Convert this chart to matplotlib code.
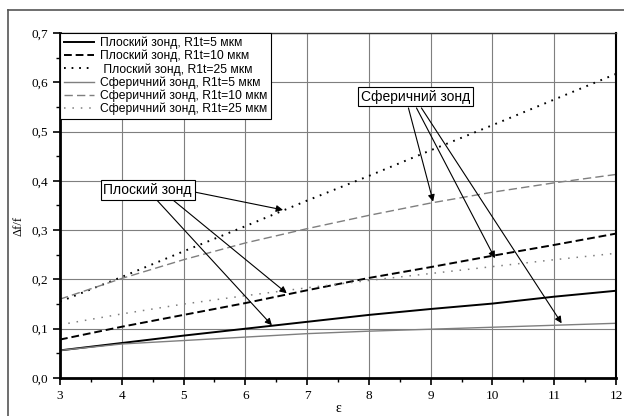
import numpy as np
import matplotlib.pyplot as plt
from matplotlib.lines import Line2D

eps = [3, 4, 5, 6, 7, 8, 9, 10, 11, 12]

flat_5 = [0.056, 0.071, 0.086, 0.100, 0.114, 0.128, 0.140, 0.151, 0.165, 0.177]
flat_10 = [0.078, 0.104, 0.128, 0.152, 0.178, 0.203, 0.225, 0.248, 0.270, 0.293]
flat_25 = [0.155, 0.205, 0.257, 0.308, 0.360, 0.410, 0.462, 0.513, 0.565, 0.617]
sph_5 = [0.056, 0.069, 0.076, 0.083, 0.090, 0.095, 0.099, 0.103, 0.107, 0.111]
sph_10 = [0.160, 0.202, 0.240, 0.274, 0.303, 0.330, 0.355, 0.377, 0.396, 0.413]
sph_25 = [0.108, 0.130, 0.150, 0.167, 0.183, 0.198, 0.212, 0.226, 0.240, 0.253]

labels = ['Плоский зонд, R1t=5 мкм', 'Плоский зонд, R1t=10 мкм', ' Плоский зонд, R1t=25 мкм',
          'Сферичний зонд, R1t=5 мкм', 'Сферичний зонд, R1t=10 мкм', 'Сферичний зонд, R1t=25 мкм']

xticks = [3, 4, 5, 6, 7, 8, 9, 10, 11, 12]
yticks = [0.0, 0.1, 0.2, 0.3, 0.4, 0.5, 0.6, 0.7]

# annotation boxes: text, position, arrow starts and tips
flat_box = (4.42, 0.381)
flat_starts = [(5.19, 0.377), (4.56, 0.362), (4.84, 0.360)]
flat_tips = [(6.61, 0.341), (6.43, 0.107), (6.67, 0.172)]
sph_box = (8.75, 0.571)
sph_starts = [(8.64, 0.548), (8.77, 0.548), (8.85, 0.548)]
sph_tips = [(9.04, 0.358), (10.04, 0.243), (11.12, 0.111)]

grey = '#7f7f7f'
fig = plt.figure(figsize=(6.24, 4.16), dpi=100)
ax = fig.add_axes([60/624, 38/416, 556/624, 345/416])

ax.grid(True, color=grey, lw=0.8)
ax.set_axisbelow(True)

ax.plot(eps, flat_5, color='black', lw=1.4, label=labels[0])
ax.plot(eps, flat_10, color='black', lw=1.4, ls=(0, (4, 2)), label=labels[1])
ax.plot(eps, flat_25, color='black', lw=1.4, ls=(0, (0.9, 3.0)), label=labels[2])
ax.plot(eps, sph_5, color=grey, lw=1.0, label=labels[3])
ax.plot(eps, sph_10, color=grey, lw=1.0, ls=(0, (6, 3)), label=labels[4])
ax.plot(eps, sph_25, color=grey, lw=1.1, ls=(0, (1, 4.5)), label=labels[5])

ax.set_xlim(3, 12)
ax.set_ylim(0, 0.7)
ax.set_xticks(xticks)
ax.set_yticks(yticks)
ax.set_xticks(np.arange(3.5, 12, 1), minor=True)
ax.set_yticks(np.arange(0.05, 0.7, 0.1), minor=True)
ax.set_xticklabels([str(t) for t in xticks], family='Liberation Serif', fontsize=9.5)
ax.set_yticklabels([f'{t:.1f}'.replace('.', ',') for t in yticks], family='Liberation Serif', fontsize=9.5)
ax.tick_params(which='major', direction='out', length=5, width=1.2)
ax.tick_params(which='minor', direction='out', length=3, width=1.0)

ax.spines['left'].set_linewidth(2)
ax.spines['bottom'].set_linewidth(2)
ax.spines['right'].set_linewidth(1.5)
ax.spines['top'].set_linewidth(1.0)
ax.spines['top'].set_color('#333333')

ax.set_xlabel('ε', family='Liberation Serif', fontsize=10, labelpad=0)
ax.set_ylabel('Δf/f', family='Liberation Serif', fontsize=9)
ax.yaxis.set_label_coords(-0.064, 0.44)

leg = ax.legend(loc='upper left', bbox_to_anchor=(0, 1), borderaxespad=0,
                prop={'family': 'Liberation Sans', 'size': 8.7}, fancybox=False,
                framealpha=1, edgecolor='black', handlelength=2.5, handletextpad=0.5,
                labelspacing=0.06, borderpad=0.3)
leg.get_frame().set_linewidth(0.8)

box = dict(boxstyle='square,pad=0.2', fc='white', ec='black', lw=0.8)
ax.text(*flat_box, 'Плоский зонд', family='Liberation Sans', fontsize=10,
        ha='center', va='center', bbox=box, zorder=5)
ax.text(*sph_box, 'Сферичний зонд', family='Liberation Sans', fontsize=10,
        ha='center', va='center', bbox=box, zorder=5)

arrow = dict(arrowstyle='-|>', color='black', lw=0.8, mutation_scale=10, shrinkA=0, shrinkB=0)
for s, t in zip(flat_starts + sph_starts, flat_tips + sph_tips):
    ax.annotate('', xy=t, xytext=s, arrowprops=arrow)

# outer frame
fig.add_artist(Line2D([8/624, 1], [1 - 10/416, 1 - 10/416], color='#555555', lw=1.2))
fig.add_artist(Line2D([8/624, 8/624], [0, 1 - 10/416], color='#555555', lw=1.2))

fig.savefig('out.png', dpi=100)
